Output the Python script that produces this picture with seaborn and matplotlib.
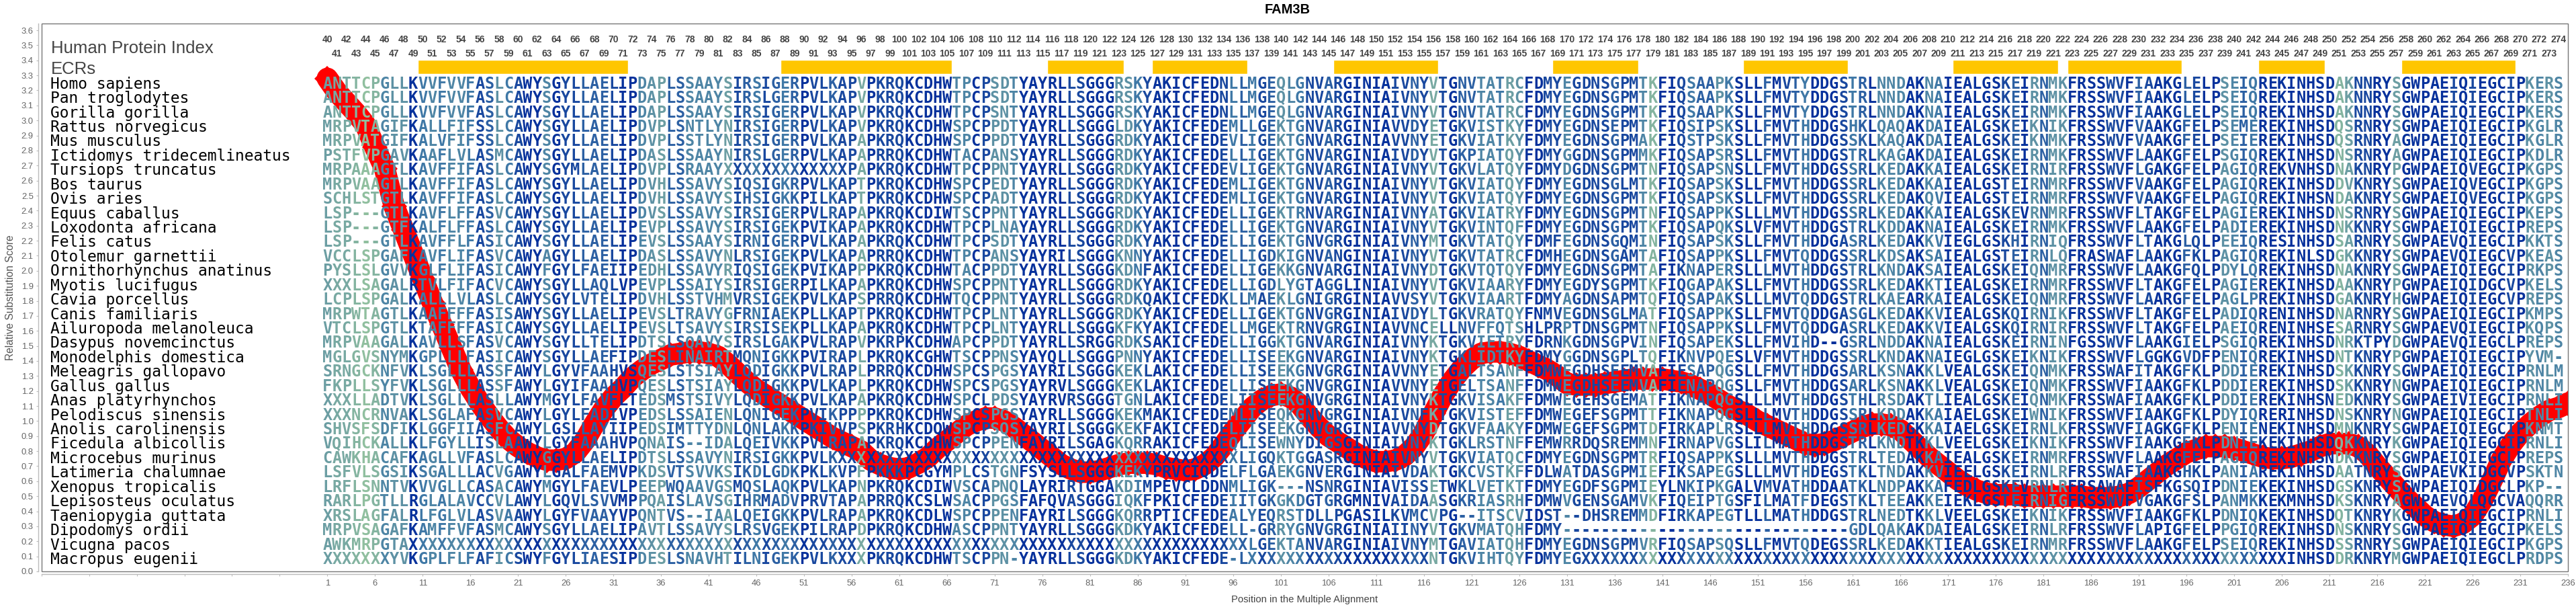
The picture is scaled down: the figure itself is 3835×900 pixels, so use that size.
import matplotlib
matplotlib.use("Agg")
import matplotlib.pyplot as plt
import seaborn as sns
import pandas as pd

# Species names, top to bottom
species = [
    "Homo sapiens", "Pan troglodytes", "Gorilla gorilla", "Rattus norvegicus", "Mus musculus",
    "Ictidomys tridecemlineatus", "Tursiops truncatus", "Bos taurus", "Ovis aries", "Equus caballus",
    "Loxodonta africana", "Felis catus", "Otolemur garnettii", "Ornithorhynchus anatinus", "Myotis lucifugus",
    "Cavia porcellus", "Canis familiaris", "Ailuropoda melanoleuca", "Dasypus novemcinctus",
    "Monodelphis domestica", "Meleagris gallopavo", "Gallus gallus", "Anas platyrhynchos",
    "Pelodiscus sinensis", "Anolis carolinensis", "Ficedula albicollis", "Microcebus murinus",
    "Latimeria chalumnae", "Xenopus tropicalis", "Lepisosteus oculatus", "Taeniopygia guttata",
    "Dipodomys ordii", "Vicugna pacos", "Macropus eugenii",
]

# Multiple alignment, one string per species
alignment = [
    "ANTTCPGLLKVVFVVFASLCAWYSGYLLAELIPDAPLSSAAYSIRSIGERPVLKAPVPKRQKCDHWTPCPSDTYAYRLLSGGGRSKYAKICFEDNLLMGEQLGNVARGINIAIVNYVTGNVTATRCFDMYEGDNSGPMTKFIQSAAPKSLLFMVTYDDGSTRLNNDAKNAIEALGSKEIRNMKFRSSWVFIAAKGLELPSEIQREKINHSDAKNNRYSGWPAEIQIEGCIPKERS",
    "ANTTCPGLLKVVFVVFASLCAWYSGYLLAELIPDAPLSSAAYSIRSLGERPVLKAPVPKRQKCDHWTPCPSDTYAYRLLSGGGRSKYAKICFEDNLLMGEQLGNVARGINIAIVNYVTGNVTATRCFDMYEGDNSGPMTKFIQSAAPKSLLFMVTYDDGSTRLNNDAKNAIEALGSKEIRNMKFRSSWVFIAAKGLELPSEIQREKINHSDAKNNRYSGWPAEIQIEGCIPKERS",
    "ANTTCPGLLKVVFVVFASLCAWYSGYLLAELIPDAPLSSAAYSIRSIGERPVLKAPVPKRQKCDHWTPCPSNTYAYRLLSGGGRSKYAKICFEDNLLMGEQLGNVARGINIAIVNYVTGNVTATRCFDMYEGDNSGPMTKFIQSAAPKSLLFMVTYDDGSTRLNNDAKNAIEALGSKEIRNMKFRSSWVFIAAKGLELPSEIQREKINHSDAKNNRYSGWPAEIQIEGCIPKERS",
    "MRPVTAGIFKALLFIFSSLCAWYSGYLLAELIPDVPLSNTLYNIRSIGERPVLKAPVPKRQKCDHWSPCPPDTYAYRLLSGGGLDKYAKICFEDEMLLGEKTGNVARGINIAVVDYETGKVISTKYFDMYEGDNSEPMTKFIQSIPSKSLLFMVTHDDGSHKLQAQAKDAIEALGSKEIKNIKFRSSWVFVAAKGFELPSEMEREKINHSDQSRNRYSGWPAEIQIEGCIPKGLR",
    "MRPVATGIFKALVFIFSSLCAWYSGYLLAELIPDVPLSSTLYNIRSIGERPVLKAPAPKRQKCDHWSPCPPDTYAYRLLSGGGRDKYAKICFEDEVLIGEKTGNVARGINIAVVNYETGKVIATKYFDMYEGDNSGPMAKFIQSTPSKSLLFMVTHDDGSSKLKAQAKDAIEALGSKEIKNMKFRSSWVFVAAKGFELPSEIEREKINHSDQSRNRYAGWPAEIQIEGCIPKGLR",
    "PSTFVPGAVKAAFLVLASMCAWYSGYLLAELIPDASLSSAAYNIRSLGERPVLKAPAPRRQKCDHWTACPANSYAYRLLSGGGRDKYAKICFEDELLIGEKTGNVARGINIAIVDYVTGKPIATQYFDMYGGDNSGPMMKFIQSAPSRSLLFMVTHDDGSTRLKAGAKDAIEALGSKEIRNMKFRSSWVFLAAKGFELPSGIQREKINHSDNSRNRYAGWPAEIQIEGCIPKDLR",
    "MRPAAAGTLKAVFFIFASLCAWYSGYMLAELIPDVPLSRAAY" + "X" * 13 + "PAPKRQKCDHWTPCPPNTYAYRLLSGGGRDKYAKICFEDEVLIGEKTGNVARGINIAIVNYVTGKVLATQYFDMYDGDNSGPMTNFIQSAPSNSLLFMVTHDDGSSRLKEDAKKAIEALGSKEIRNIRFRSSWVFLGAKGFELPAGIQREKVNHSDNAKNRYPGWPAEIQVEGCIPKGPS",
    "MRPVAAGTLKAVFFIFASLCAWYSGYLLAELIPDVHLSSAVYSIQSIGKRPVLKAPTPKRQKCDHWSPCPEDTYAYRLLSGGGRDKYAKICFEDEMLIGEKTGNVARGINIAIVNYVTGKVIATQYFDMYEGDNSGLMTKFIQSAPSKSLLFMVTHDDGSSRLKEDAKKAIEALGSTEIRNMRFRSSWVFVAAKGFELPAGIQREKINHSDDVKNRYSGWPAEIQVEGCIPKGPS",
    "SCHLSTGTLKAVFFIFASLCAWYSGYLLAELIPDVHLSSAVYSIHSIGKKPILKAPTPKRQKCDHWSPCPADTYAYRLLSGGGRDKYAKICFEDEMLIGEKTGNVARGINIAIVNYVTGKVIATQYFDMYEGDNSGPMTKFIQSAPSKSLLFMVTHDDGSSRLKEDAKQVIEALGSTEIRNMRFRSSWVFVAAKGFELPAGIQREKINHSNDAKNRYSGWPAEIQVEGCIPKGPS",
    "LSP---GTLKAVFLFFASVCAWYSGYLLAELIPDVSLSSAVYSIRSIGERPVLRAPAPKRQKCDIWTSCPPNTYAYRLLSGGGRDKYAKICFEDELLIGEKTRNVARGINIAIVNYATGKVIATRYFDMYEGDNSGPMTNFIQSAPPKSLLLMVTHDDGSSRLKEDAKKAIEALGSKEVRNMRFRSSWVFLTAKGFELPAGIEREKINHSDNSRNRYSGWPAEIQIEGCIPKEPS",
    "LSP---GTFKALFLFFASLCAWYSGYLLAELIPEVPLSSAVYSIRSIGEKPVIKAPAPKRQKCDHWTPCPLNAYAYRLLSGGGRDKYAKICFEDELLIGEKTGNVARGINIAIVNYVTGKVINTQFFDMYEGDNSGPMTKFIQSAPQKSLVFMVTHDDGSTRLKDDAKNAIEALGSKEIRNMKFRSSWVFLAAKGFELPADIEREKINHSDNKKNRYSGWPAEIQIEGCIPREPS",
    "LSP---GTLKAVFFLFASICAWYSGYLLAELIPEVSLSSAAYSIRNIGERPVLKAPAPKRQKCDHWTPCPSDTYAYRLLSGGGRDKYAKICFEDELLIGEKTGNVGRGINIAIVNYMTGKVTATQYFDMFEGDNSGQMINFIQSAPSKSLLFMVTHDDGASRLKEDAKKVIEGLGSKHIRNIQFRSSWVFLTAKGLQLPEEIQRESINHSDSARNRYSGWPAEVQIEGCIPKKTS",
    "VCCLSPGAFKAVFLIFASVCAWYAGYLLAELIPDASLSSAVYNLRSIGEKPVLKAPAPRRQKCDHWTPCPANSYAYRILSGGGKNNYAKICFEDELLIGDKIGNVANGINIAIVNYVTGKVTATRCFDMHEGDNSGAMTAFIQSAPPKSLLFMVTQDDGSSRLKDSAKSAIEALGSTEIRNLQFRASWAFLAAKGFKLPAGIQREKINLSDGKKNRYSGWPAEVQIEGCVPKEAS",
    "PYSLSLGVVKGLFLIFASICAWYFGYLFAEIIPEDHLSSAVYRIQSIGEKPVIKAPPPKRQKCDHWTACPPDTYAYRLLSGGGKDNFAKICFEDELLIGEKKGNVARGINIAIVNYDTGKVTQTQYFDMYEGDNSGPMTAFIKNAPERSLLLMVTHDDGSTRLKNDAKSAIEALGSKEIQNMRFRSSWVFLAAKGFQLPDYLQREKINHSDNAKNRYSGWPAEIQIEGCIPRKPS",
    "XXXLSAGALRTVLFIFACVCAWYSGYLLAQLVPEVPLSSAIYSIRSIGERPILKAPAPKRQKCDHWSPCPPNTYAYRLLSGGGRDKYAKICFEDELLIGDLYGTAGGLINIAIVNYVTGKVIAARYFDMYEGDYSGPMTKFIQGAPAKSLLFMVTHDDGSSRLKEDAKKTIEALGSKEIRNMRFRSSWVFLTAKGFELPAGIEREKINHSDAAKNRYPGWPAEIQIDGCVPKELS",
    "LCPLSPGALKALLLVLASLCAWYSGYLVTELIPDVHLSSTVHMVRSIGEKPVLKAPSPRRQKCDHWTQCPPNTYAYRLLSGGGRDKQAKICFEDKLLMAEKLGNIGRGINIAVVSYVTGKVIAARTFDMYAGDNSAPMTQFIQSAPAKSLLLMVTQDDGSTRLKAEARKAIEALGSKEIQNMRFRSSWVFLAARGFELPAGLPREKINHSDGAKNRYHGWPAEIQIEGCVPREPS",
    "MRPWTAGTLKAAFFFFASISAWYSGYLLAELIPEVSLTRAVYGFRNIAEKPLLKAPTPKRQKCDHWTPCPLNTYAYRLLSGGGRDKYAKICFEDELLIGEKTGNVGRGINIAIVDYLTGKVRATQYFNMVEGDNSGLMATFIQSAPPKSLLFMVTQDDGASGLKEDAKKVIEALGSKQIRNIKFRSSWVFLTAKGFELPADIQRENINHSDNARNRYSGWPAEIQIEGCIPKMPS",
    "VTCLSPGTLKTAFFFFASICAWYSGYLLAELIPEVSLTSAVYSIRSISEKPLLKAPAPKRQKCDHWTPCPLNTYAYRLLSGGGKFKYAKICFEDELLMGEKTRNVGRGINIAVVNCELLNVFFQTSHLPRPTDNSGPMTNFIQSAPPKSLLFMVTQDDGASRLKEDAKKVIEALGSKQIRNIRFRSSWVFLTAKGFELPAEIQRENINHSESARNRYSGWPAEVQIEGCIPKQPS",
    "MRPVAAGALKAVLLSFASVCAWYSGYLLTELIPDTSLSQAVYSIRSLGAKPVLRAPVPKRPKCDHWAPCPPDTYAYRLLSRGGRDKSAKICFEDELLIGGKTGNVARGINIAIVNYKTGKVIETRYFDRNKGDNSGPVINFIQSAPEKSLLFMVIHD--GSRLNDDAKNAIEALGSKEIRNINFGSSWVFLAAKGIELPSGIQREKINHSDNRKTPYDGWPAEVQIEGCLPREPS",
    "MGLGVSNYMKGPLLLFASICAWYSGYLLAEFIPDESLINAIRTMQNIGKKPVIRAPLPKRQKCGHWTSCPPNSYAYQLLSGGGPNNYAKICFEDELLISEEKGNVARGINIAIVNYKTGKLIDTKYFDMYGGDNSGPLTQFIKNVPQESLVFMVTHDDGSSRLKNDAKNAIEGLGSKEIKNIKFRSSWVFLGGKGVDFPENIQREKINHSDNTKNRYPGWPAEIQIEGCIPYVM-",
    "SRNGCKNFVKLSGLLLASSFAWYLGYVFAAHVSQESLSTSIAYLQDIGKKPVLRAPLPRRQKCDHWSPCSPGSYAYRILSGGGKEKLAKICFEDELLISEEKGNVGRGINIAVVNYETGALTSANFFDMWEGDHSEEMVAFIESAPQGSLLFMVTHDDGSARLKSNAKKLVEALGSKEIQNMKFRSSWAFITAKGFKLPDDIEREKINHSDSKKNRYSGWPAEIQIEGCIPRNLM",
    "FKPLLSYFVKLSGLLLASSFAWYLGYIFAAHVPQESLSTSIAYLQDIGKKPVLKAPLPKRQKCDHWSPCSPGSYAYRVLSGGGKEKLAKICFEDELLISEEKGNVGRGINIAVVNYETGELTSANFFDMWEGDHSEEMVAFIENAPQGSLLFMVTHDDGSARLKSNAKKLVEALGSKEIQNMKFRSSWVFIAAKGFKLPDDIEREKINHSDSKKNRYNGWPAEIQIEGCIPRNLM",
    "XXXLLADTVKLSGLLLASLLAWYMGYLFAVFLTEDSMSTSIVYLQDIGKKPVLKAPAPKRQKCDHWSPCLPDSYAYRVRSGGGTGNLAKICFEDELIISEEKGNVGRGINIAIVNYKTGKVISAKFFDMWEGEHSGEMATFIKNAPQGSLLLMVTHDDGSTHLRSDAKTLIEALGSKEIQNMKFRSSWAFIAAKGFKLPDDIEREKINHSNEDKNRYSGWPAEIVIEGCIPRNLI",
    "XXXNCRNVAKLSGLAFASVCAWYLGYLFADIVPEDSLSSAIENLQNIGEKPVIKPPPPKRQKCDHWSPCSPGSYAYRLLSGGGKEKMAKICFEDEMLISEQKGNVGRGINIAIVNFKTGKVISTEFFDMWEGEFSGPMTTFIKNAPQGSLLLMVTHDDGSSRLKDDAKKAIAELGSKEIWNIKFRSSWVFIAAKGFKLPDYIQRERINHSDNSKNRYNGWPAEIQIEGCIPTNLI",
    "SHVSFSDFIKLGGFIIASFCAWYLGSLLAYIIPEDSIMTTYDNLQNLAKKPKIVVPSPKRHKCDQWSPCPSQSYAYRILSGGGKEKFAKICFEDELIISEEKGNVGRGINIAVVNYDTGKVFAAKYFDMWEGEFSGPMTDFIRKAPLRSLLLMVTHDDGSSRLKEDGKKAIAELGSKEIRNLKFRSSWVFIAGKGFKLPENIENEKINHSDMNKNRYSGWPAEIQIEGCIPKNMT",
    "VQIHCKALLKLFGYLLISLAAWYLGYFAAAHVPQNAIS--IDALQEIVKKPVLRAPAPKRQKCDHWSPCPPENFAYRILSGAGKQRRAKICFEDEQLISEWNYDIGSGINIAIVNYKTGKLRSTNFFEMWRRDQSREMMNFIRNAPVGSLILMATHDDGSTRLKNDTKKLVEELGSKEIKNIKFRSSWVFIAAKGFKLPDNIEKEKINHSDQKKNRYKGWPAEIQIEGCIPRNLI",
    "CAWKHACAFKAGLLVFASLCAWYGGYLLAELIPDTSLSSAVYNIRSIGKKPVLK" + "X" * 42 + "LIGQKTGGASRGINIAIVNYVTGKVIATQCFDMYEGDNSGPMTRFIQSAPPKSLLLMVTHDDGSTRLTEDAKKAIEALGSKEIRNMRFRSSWVFLAAKGFELPAGIQREKINHSNDKKNRYSGWPAEIQIEGCLPREPS",
    "LSFVLSGSIKSGALLLACVGAWYLGALFAEMVPKDSVTSVVKSIKDLGDKPKLKVPFPKKKPCGYMPLCSTGNFSYSLLSGGGKEKYPRVCIQDELFLGAEKGNVERGINIAIVDAKTGKCVSTKFFDLWATDASGPMIEFIKSAPEGSLLLMVTHDEGSTKLTNDAKKVIEELGSKEIRNLRFRSSWAFIAAKGHKLPANIAREKINHSDAATNRYSGWPAEVKIDGCVPSKTN",
    "LRFLSNNTVKVVGLLCASACAWYMGYLFAEVLPEEPWQAAVGSMQSLAQKPVLKAPNPKRQKCDIWVSCAPNQLAYRIRTGGAKDIMPEVCLDDNMLIGK---NSNRGINIAVISSETWKLVETKTFDMYEGDFSGPMIEYLNKIPKGALVMVATHDDAATKLNDPAKKAFEDLGSKEVRNLRFRSAWAFISFKGSQIPDNIEKEKINHSDGSKNRYSGWPAEIQIDGCLPKP--",
    "RARLPGTLLRGLALAVCCVLAWYLGQVLSVVMPPQAISLAVSGIHRMADVPRVTAPAPRRQKCSLWSACPPGSFAFQVASGGGIQKFPKICFEDEIITGKGKDGTGRGMNIVAIDAASGKRIASRHFDMWVGENSGAMVKFIQEIPTGSFILMATFDEGSTKLTEEAKKEIEKLGSTEIRNIGFRSSWVFVGAKGFSLPANMKKEKMNHSDKSKNRYAGWPAEVQLQGCVAQQRR",
    "XRSLAGFALRLFGLVLASVAAWYLGYFVAAYVPQNTVS--IAALQEIGKKPVLRAPAPKRQKCDLWSPCPPENFAYRILSGGGKQRRPTICFEDEALYEQRSTDLLPGASILKVMCVPG--ITSCVIDST--DHSREMMDFIRKAPEGTLLLMATHDDGSTRLNEDTKKLVEELGSKEIKNIKFRSSWVFIAAKGFKLPDNIQKEKINHSDQTKNRYKGWPAEIQIEGCIPRNLI",
    "MRPVSAGAFKAMFFVFASMCAWYSGYLLAELIPAVTLSSAVYSLRSVGEKPILRAPDPKRQKCDHWASCPPNTYAYRLLSGGGKDKYAKICFEDELL-GRRYGNVGRGINIAIINYVTGKVMATQHFDMY" + "-" * 30 + "GDLQAKAKDAIEALGSKEIRNLRFRSSWVFLAPIGFELPPGIQREKINHSDNSKNRYSGWPAEIQIEGCIPKELS",
    "AWKMRPGTA" + "X" * 88 + "LGEKTANVARGINIAIVNYMTGAVIATQHFDMYEGDNSGPMVRFIQSAPSQSLLFMVTQDEGSSRLKEDAKKTIEALGSKEIRNMRFRSSWVFLAAKGFELPSEIQREKINHSDSSRNRYSGWPAEIQIEGCIPKGPS",
    "XXXXXXXYVKGPLFLFAFICSWYFGYLIAESIPDESLSNAVHTILNIGEKPVLKXXXPKRQKCDHWTSCPPN-YAYRLLSGGGKDKYAKICFEDE-L" + "X" * 19 + "NTGKVIHTQYFDMYEG" + "X" * 74 + "INHSDDRKNRYMGWPAEIQIEGCLPRDPS",
]

# How pale each alignment column is, 0 = dark navy, 9 = pale green
column_shade = [
    6, 7, 7, 8, 9, 8, 4, 5, 5, 0, 3, 4, 3, 4, 4, 3, 1, 2, 5, 3,
    1, 0, 0, 4, 0, 1, 1, 2, 2, 2, 1, 0, 0, 4, 5, 6, 2, 2, 4, 4,
    4, 4, 6, 1, 2, 3, 1, 2, 3, 2, 0, 1, 1, 2, 1, 1, 7, 0, 1, 1,
    1, 0, 0, 0, 0, 0, 4, 4, 0, 1, 5, 5, 4, 0, 0, 0, 0, 0, 1, 1,
    0, 0, 0, 5, 5, 3, 1, 0, 0, 0, 0, 0, 0, 0, 1, 3, 2, 3, 1, 2,
    5, 4, 3, 1, 1, 2, 1, 0, 0, 0, 0, 0, 1, 1, 2, 1, 7, 1, 0, 2,
    2, 4, 4, 3, 6, 5, 0, 0, 1, 1, 4, 1, 1, 1, 1, 2, 1, 1, 4, 8,
    0, 0, 1, 3, 2, 2, 5, 3, 0, 0, 0, 2, 0, 1, 2, 3, 0, 0, 0, 1,
    3, 2, 0, 4, 4, 4, 0, 0, 4, 3, 0, 0, 0, 0, 0, 0, 1, 2, 0, 5,
    2, 5, 5, 0, 0, 0, 0, 1, 1, 0, 2, 1, 0, 0, 0, 2, 1, 0, 0, 5,
    4, 2, 3, 0, 0, 0, 0, 0, 0, 0, 0, 8, 6, 1, 1, 0, 0, 6, 0, 0,
    0, 0, 0, 1, 0, 1, 0, 0, 0, 1, 0, 5, 4, 5, 4,
]

# Relative substitution score at positions 1..236
scores = [
    3.28, 3.19, 3.12, 3.05, 2.97, 2.82, 2.68, 2.43, 2.27, 2.11, 1.95, 1.79, 1.64, 1.49, 1.34, 1.22, 1.12, 1.03, 0.95, 0.88,
    0.83, 0.79, 0.76, 0.74, 0.74, 0.75, 0.79, 0.87, 0.98, 1.08, 1.16, 1.22, 1.29, 1.34, 1.38, 1.41, 1.44, 1.45, 1.46, 1.46,
    1.45, 1.43, 1.38, 1.32, 1.26, 1.21, 1.17, 1.13, 1.09, 1.05, 1.01, 0.97, 0.93, 0.89, 0.86, 0.83, 0.80, 0.74, 0.71, 0.69,
    0.68, 0.69, 0.72, 0.76, 0.82, 0.87, 0.92, 0.97, 1.00, 1.02, 1.02, 1.00, 0.96, 0.91, 0.86, 0.81, 0.76, 0.71, 0.68, 0.66,
    0.66, 0.67, 0.69, 0.71, 0.72, 0.72, 0.72, 0.71, 0.69, 0.68, 0.67, 0.68, 0.71, 0.76, 0.84, 0.93, 1.01, 1.09, 1.14, 1.17,
    1.18, 1.16, 1.11, 1.03, 0.96, 0.90, 0.86, 0.82, 0.78, 0.75, 0.73, 0.73, 0.74, 0.77, 0.83, 0.92, 1.05, 1.17, 1.27, 1.35,
    1.41, 1.45, 1.46, 1.46, 1.45, 1.43, 1.40, 1.37, 1.34, 1.30, 1.25, 1.24, 1.24, 1.24, 1.25, 1.26, 1.27, 1.28, 1.28, 1.28,
    1.28, 1.27, 1.26, 1.24, 1.21, 1.18, 1.14, 1.10, 1.07, 1.04, 1.00, 0.97, 0.94, 0.91, 0.88, 0.85, 0.84, 0.85, 0.87, 0.90,
    0.93, 0.96, 0.98, 0.98, 0.97, 0.94, 0.88, 0.82, 0.76, 0.71, 0.66, 0.61, 0.57, 0.54, 0.52, 0.51, 0.51, 0.51, 0.50, 0.50,
    0.50, 0.50, 0.50, 0.50, 0.50, 0.49, 0.49, 0.49, 0.50, 0.52, 0.56, 0.61, 0.66, 0.71, 0.75, 0.79, 0.81, 0.83, 0.83, 0.83,
    0.82, 0.80, 0.78, 0.76, 0.75, 0.75, 0.76, 0.78, 0.80, 0.83, 0.85, 0.85, 0.85, 0.83, 0.78, 0.70, 0.63, 0.56, 0.49, 0.43,
    0.37, 0.33, 0.31, 0.30, 0.32, 0.37, 0.47, 0.60, 0.74, 0.84, 0.92, 0.98, 1.03, 1.07, 1.09, 1.12,
]

# ECR blocks, first and last alignment column
ecr_first = [11, 49, 77, 88, 107, 130, 150, 172, 184, 204, 219]
ecr_last = [32, 66, 84, 97, 117, 138, 160, 182, 195, 210, 230]

# Position numbers above the alignment start at 40
first_label = 40

sns.set_style("white")
plt.rcParams["font.family"] = ["Liberation Sans", "DejaVu Sans"]

fig = plt.figure(figsize=(38.35, 9), dpi=100)
ax = fig.add_axes([61.6 / 3835, 50 / 900, (3823 - 61.6) / 3835, 815 / 900])

palette = sns.blend_palette(["#06319c", "#3f78a6", "#6c9ea3", "#90bf9f"], 10)

df = pd.DataFrame({"pos": range(1, len(scores) + 1), "score": scores})

# ECR blocks
for a, b in zip(ecr_first, ecr_last):
    ax.barh(3.358, b - a + 1, left=a - 0.5, height=0.094, color="#ffc600", zorder=1)

sns.lineplot(data=df, x="pos", y="score", ax=ax, color="#ff0000", linewidth=23, marker="D",
             markersize=19, markeredgewidth=0, errorbar=None, zorder=2)

# Alignment letters sit on top of the red line
base = 3.2125
pitch = 0.09585
for i, (name, row) in enumerate(zip(species, alignment)):
    y = base - i * pitch
    ax.text(-28.05, y, name, family="DejaVu Sans Mono", fontsize=16.5, color="black", va="baseline", ha="left")
    for j, ch in enumerate(row):
        ax.text(j + 1, y, ch, family="DejaVu Sans Mono", fontweight="bold", fontsize=17,
                color=palette[column_shade[j]], va="baseline", ha="center", zorder=3)

# Column numbers, staggered on two lines
for j in range(len(column_shade)):
    y = 3.538 if j % 2 == 0 else 3.444
    ax.text(j + 1, y, str(first_label + j), fontweight="bold", fontsize=10, color="#444444", ha="center", va="center")

ax.text(-28, 3.48, "Human Protein Index", fontsize=18.5, color="#444444", va="center", ha="left")
ax.text(-28, 3.34, "ECRs", fontsize=18.5, color="#444444", va="center", ha="left")

ax.set_xlim(-29, 236)
ax.set_ylim(0, 815 / 223.6)

xticks = list(range(-29, 237, 5))
ax.set_xticks(xticks)
ax.set_xticklabels([str(t) if t > 0 else "" for t in xticks])
ax.set_yticks([t / 10 for t in range(0, 37)])
ax.set_yticklabels([f"{t / 10:.1f}" for t in range(0, 37)])
ax.tick_params(axis="both", length=2.5, width=0.8, color="#bbbbbb", labelcolor="#666666", labelsize=9.4, pad=3, bottom=True, left=True)

# Outer axis lines stand a little off the dark frame
for side in ["top", "right"]:
    ax.spines[side].set_visible(False)
for side in ["left", "bottom"]:
    ax.spines[side].set_position(("outward", 3))
    ax.spines[side].set_color("#bbbbbb")
    ax.spines[side].set_linewidth(1)
ax.add_patch(plt.Rectangle((0, 0), 1, 1, transform=ax.transAxes, fill=False, ec="#777777", lw=1, clip_on=False, zorder=5))

ax.set_xlabel("Position in the Multiple Alignment", fontsize=10.6, color="#444444", labelpad=8)
ax.set_ylabel("Relative Substitution Score", fontsize=11.2, color="#555555", labelpad=6)
fig.text(1917 / 3835, 1 - 14 / 900, "FAM3B", fontsize=14.4, fontweight="bold", color="black", ha="center", va="center")

fig.savefig("out.png", dpi=100)
